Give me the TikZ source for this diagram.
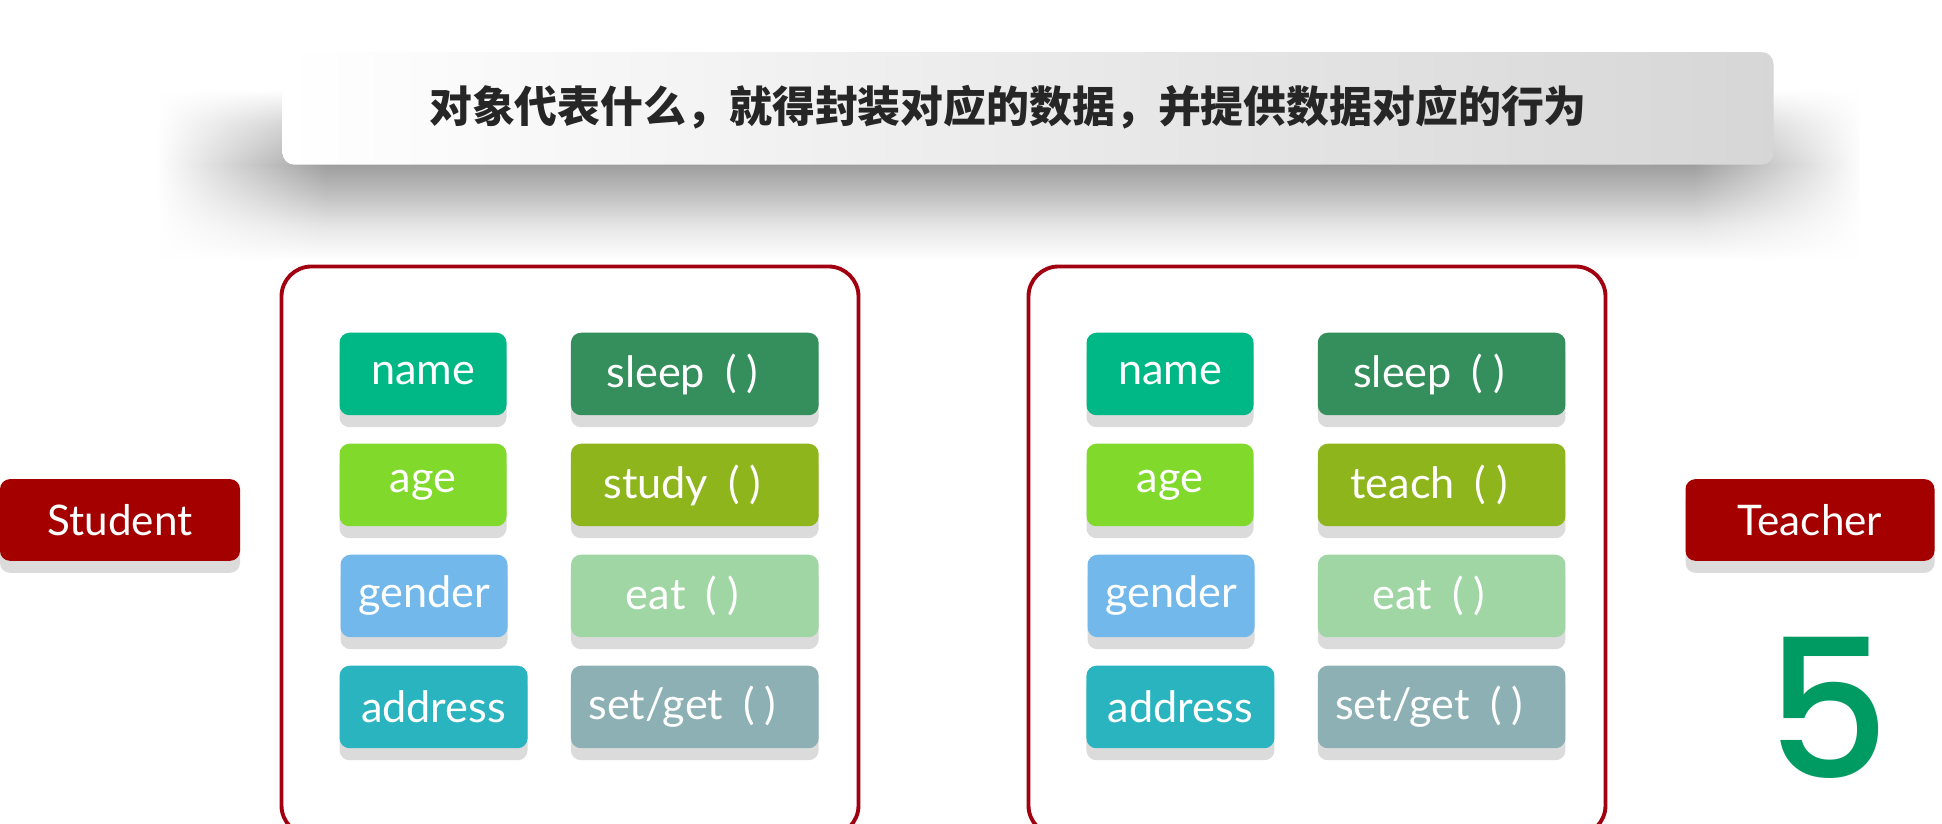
\documentclass[tikz,border=0pt]{standalone}
\usepackage{fontspec}
\setmainfont{Lato}
\newfontfamily\cjk{Noto Sans CJK SC}
\newfontfamily\numfont{Poppins}[UprightFont=* Medium]
\usetikzlibrary{shadows, fadings}

\definecolor{clsred}{HTML}{A50000}
\definecolor{boxred}{HTML}{A0000F}
\definecolor{cname}{HTML}{00B886}
\definecolor{cage}{HTML}{80D92B}
\definecolor{cgender}{HTML}{72B8EA}
\definecolor{caddress}{HTML}{29B4C0}
\definecolor{csleep}{HTML}{348F5C}
\definecolor{cstudy}{HTML}{8EB51C}
\definecolor{ceat}{HTML}{A0D6A4}
\definecolor{csetget}{HTML}{8CB0B4}
\definecolor{five}{HTML}{009B63}

% soft shadow under the title bar (path is mapped onto 25bp..75bp)
\pgfdeclareverticalshading{titleshadow}{100bp}{color(0bp)=(white); color(25bp)=(white); color(35bp)=(black!10); color(45bp)=(black!26); color(53bp)=(black!38); color(65bp)=(black!22); color(75bp)=(white); color(100bp)=(white)}
\pgfdeclarehorizontalshading{sideshade}{100bp}{color(0bp)=(pgftransparent!100); color(25bp)=(pgftransparent!100); color(30bp)=(pgftransparent!0); color(70bp)=(pgftransparent!0); color(75bp)=(pgftransparent!100); color(100bp)=(pgftransparent!100)}
\pgfdeclarefading{sidefade}{\pgfuseshading{sideshade}}

\newcommand{\callp}{\hspace{0.2cm}(\hspace{0.1cm})\hspace{0.25cm}\null}

\begin{document}
\begin{tikzpicture}[
	tag/.style={rounded corners=0.1cm, minimum height=0.825cm, inner sep=0pt, text=white,
		font=\fontsize{12.3}{14}\selectfont,
		drop shadow={shadow xshift=0cm, shadow yshift=-0.12cm, fill=black!14, opacity=1}},
	attr/.style={tag, minimum width=1.67cm},
	meth/.style={tag, minimum width=2.477cm},
	cls/.style={tag, fill=clsred, minimum height=0.817cm, font=\fontsize{12}{14}\selectfont},
	panel/.style={draw=boxred, line width=1.1pt, rounded corners=0.3cm, minimum width=5.77cm, minimum height=5.69cm}]

	\clip (0,0) rectangle (19.42,-8.24);
	\fill[white] (0,0) rectangle (19.42,-8.24);

	% Title
	\shade[shading=titleshadow, path fading=sidefade] (1.6,-2.6) rectangle (18.6,-0.9);
	\node[rounded corners=0.12cm, minimum width=14.91cm, minimum height=1.127cm, left color=white, right color=black!16] (titlebar) at (10.28,-1.084) {};
	\node[font=\cjk\bfseries\fontsize{12.2}{14}\selectfont, text=black!85] (title) at (10.08,-1.077) {对象代表什么，就得封装对应的数据，并提供数据对应的行为};

	% Panels
	\node[panel] (stupanel) at (5.70,-5.51) {};
	\node[panel] (teapanel) at (13.17,-5.51) {};

	% Classes
	\node[cls, minimum width=2.40cm] (student) at (1.20,-5.20) {Student};
	\node[cls, minimum width=2.49cm] (teacher) at (18.10,-5.20) {Teacher};

	% Student
	\node[attr, fill=cname]   (sname)    at (4.23,-3.74) {name};
	\node[attr, fill=cage]    (sage)     at (4.23,-4.85) {age};
	\node[attr, fill=cgender] (sgender)  at (4.24,-5.96) {gender};
	\node[attr, fill=caddress, minimum width=1.88cm] (saddress) at (4.336,-7.07) {address};
	\node[meth, fill=csleep]  (ssleep)   at (6.948,-3.74) {sleep\callp};
	\node[meth, fill=cstudy]  (sstudy)   at (6.948,-4.85) {study\callp};
	\node[meth, fill=ceat]    (seat)     at (6.948,-5.96) {eat\callp};
	\node[meth, fill=csetget] (ssetget)  at (6.948,-7.07) {set/get\callp};

	% Teacher
	\node[attr, fill=cname]   (tname)    at (11.70,-3.74) {name};
	\node[attr, fill=cage]    (tage)     at (11.70,-4.85) {age};
	\node[attr, fill=cgender] (tgender)  at (11.71,-5.96) {gender};
	\node[attr, fill=caddress, minimum width=1.88cm] (taddress) at (11.804,-7.07) {address};
	\node[meth, fill=csleep]  (tsleep)   at (14.416,-3.74) {sleep\callp};
	\node[meth, fill=cstudy]  (tteach)   at (14.416,-4.85) {teach\callp};
	\node[meth, fill=ceat]    (teat)     at (14.416,-5.96) {eat\callp};
	\node[meth, fill=csetget] (tsetget)  at (14.416,-7.07) {set/get\callp};

	% Number
	\node[font=\numfont\fontsize{55}{60}\selectfont, text=five, inner sep=0.1cm] (number) at (18.28,-7.08) {5};
\end{tikzpicture}
\end{document}
